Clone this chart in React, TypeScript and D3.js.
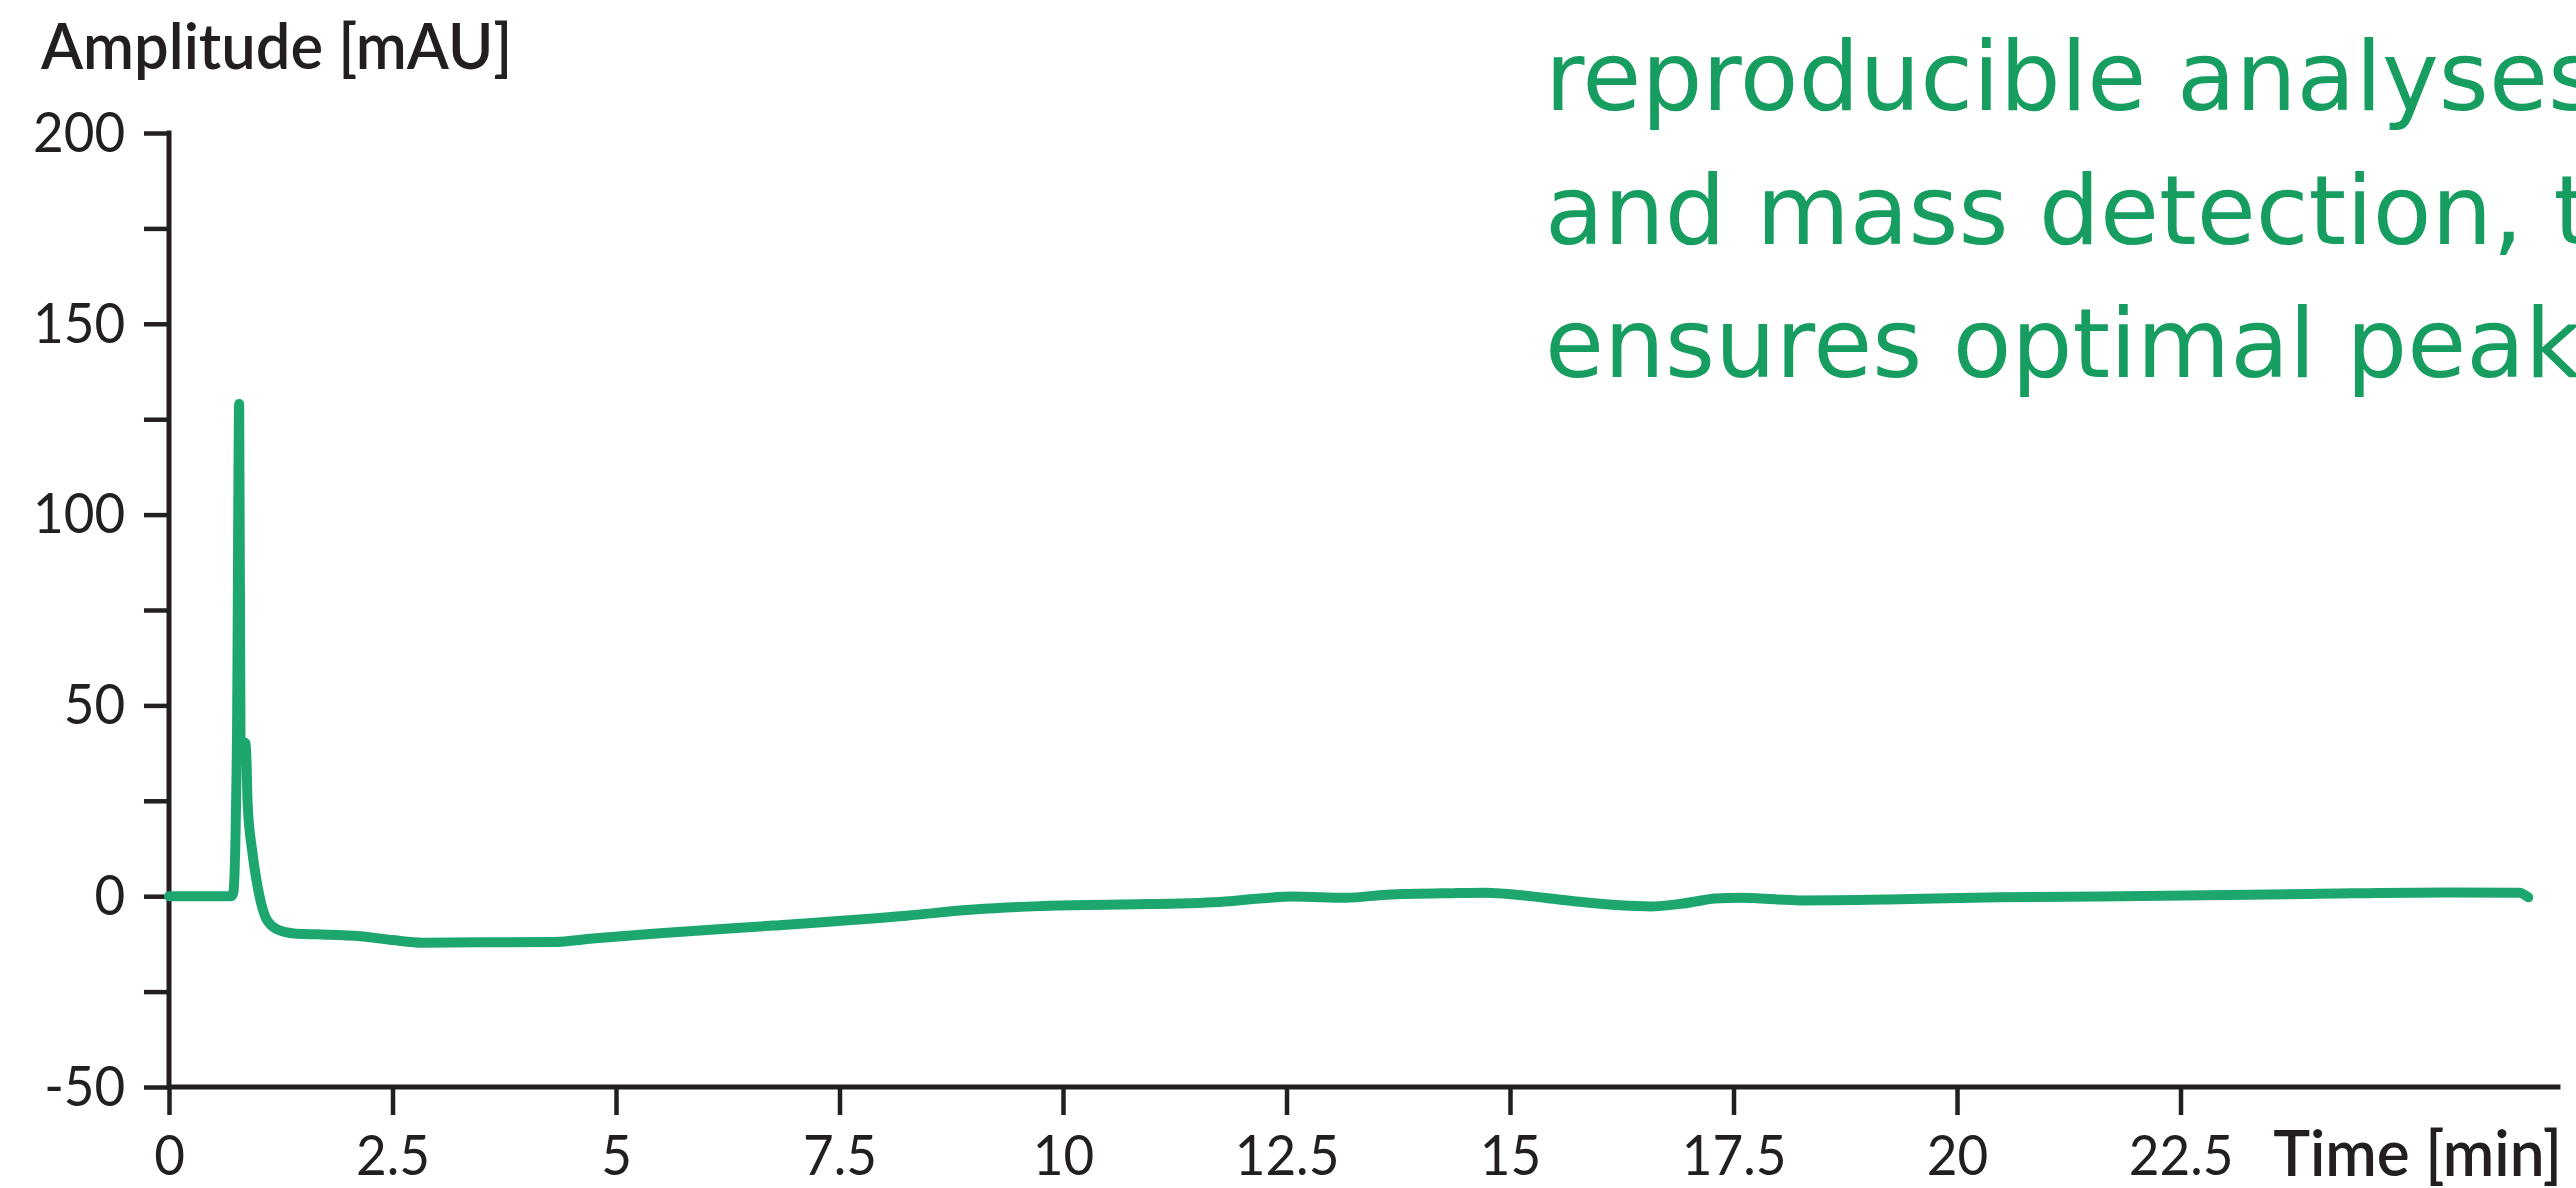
import React, { useEffect, useRef } from 'react';
import * as d3 from 'd3';

// chromatogram trace
const times = [
  0, 0.7, 0.72, 0.76, 0.785, 0.8, 0.86, 0.88, 0.93, 0.98, 1.09, 1.22, 1.4, 1.65,
  2.14, 2.5, 2.84, 3.5, 4.3, 4.74, 5.27, 5.49, 6.76, 8.25, 9.0, 9.74, 10.64,
  11.76, 12.2, 12.57, 13.17, 13.62, 14.36, 14.74, 15.1, 15.67, 16.23, 16.57,
  16.94, 17.3, 17.57, 18.24, 19.36, 20.48, 21.6, 23.94, 25.44, 26.29, 26.39,
];
const amplitudes = [
  0, 0, 1, 41, 129, 41, 40, 24, 12, 4, -6, -8.8, -9.8, -10,
  -10.5, -11.5, -12.2, -12.1, -12, -11.1, -10.1, -9.7, -7.7, -5.1, -3.5, -2.6, -2.2,
  -1.5, -0.6, -0.1, -0.4, 0.4, 0.8, 0.9, 0.3, -1.2, -2.4, -2.7,
  -1.9, -0.6, -0.4, -1.1, -0.8, -0.3, -0.1, 0.6, 1.0, 0.9, -0.3,
];

const yTicks = [-50, -25, 0, 25, 50, 75, 100, 125, 150, 175, 200];
const yLabels = [-50, 0, 50, 100, 150, 200];
const xTicks = [0, 2.5, 5, 7.5, 10, 12.5, 15, 17.5, 20, 22.5];
const xLabels = ['0', '2.5', '5', '7.5', '10', '12.5', '15', '17.5', '20', '22.5'];

const yTitle = 'Amplitude [mAU]';
const xTitle = 'Time [min]';
const noteLines = ['reproducible analyses', 'and mass detection, t', 'ensures optimal peak'];

const W = 2576;
const H = 1188;
const axisColor = '#231f20';
const lineColor = '#1da76f';
const noteColor = '#169d5f';
const labelFont = 'Lato, "Open Sans", sans-serif';

export default function App() {
  const svgRef = useRef<SVGSVGElement>(null);

  useEffect(() => {
    if (!svgRef.current) return;
    document.body.style.margin = '0';

    const svg = d3.select(svgRef.current);
    svg.selectAll('*').remove();
    svg.attr('width', W).attr('height', H);

    const x = d3.scaleLinear().domain([0, 26.7]).range([169, 2556]);
    const y = d3.scaleLinear().domain([-50, 200]).range([1087, 133]);

    // y axis ticks + labels
    const yAxis = d3.axisLeft(y)
      .tickValues(yTicks)
      .tickSize(25)
      .tickPadding(22)
      .tickFormat(d => (yLabels.includes(d as number) ? String(d) : ''));

    const gy = svg.append('g')
      .attr('transform', `translate(${x(0)},0)`)
      .call(yAxis);
    gy.select('.domain').remove();
    gy.selectAll('line').attr('stroke', axisColor).attr('stroke-width', 4.5);
    gy.selectAll('text')
      .attr('fill', axisColor)
      .style('font-family', labelFont)
      .style('font-size', '57px')
      .attr('transform', 'scale(0.93,1)');

    // x axis ticks + labels
    const xAxis = d3.axisBottom(x)
      .tickValues(xTicks)
      .tickSize(28)
      .tickPadding(20)
      .tickFormat((d, i) => xLabels[i]);

    const gx = svg.append('g')
      .attr('transform', `translate(0,${y(-50)})`)
      .call(xAxis);
    gx.select('.domain').remove();
    gx.selectAll('line').attr('stroke', axisColor).attr('stroke-width', 4.5);
    gx.selectAll('text')
      .attr('fill', axisColor)
      .style('font-family', labelFont)
      .style('font-size', '57px')
      .attr('transform', 'scale(0.93,1)');

    // axis lines
    svg.append('line')
      .attr('x1', x(0)).attr('x2', x(0))
      .attr('y1', y(200)).attr('y2', y(-50))
      .attr('stroke', axisColor).attr('stroke-width', 5)
      .attr('stroke-linecap', 'square');
    svg.append('line')
      .attr('x1', x(0)).attr('x2', x(26.75))
      .attr('y1', y(-50)).attr('y2', y(-50))
      .attr('stroke', axisColor).attr('stroke-width', 5);

    // titles
    svg.append('g')
      .attr('transform', 'translate(41,69) scale(0.96,1)')
      .append('text')
      .attr('fill', axisColor)
      .style('font-family', labelFont)
      .style('font-size', '64px')
      .style('font-weight', 600)
      .text(yTitle);

    svg.append('g')
      .attr('transform', 'translate(2562,1176) scale(0.97,1)')
      .append('text')
      .attr('text-anchor', 'end')
      .attr('fill', axisColor)
      .style('font-family', labelFont)
      .style('font-size', '64px')
      .style('font-weight', 600)
      .text(xTitle);

    // trace
    const data = times.map((t, i) => [t, amplitudes[i]] as [number, number]);
    const line = d3.line<[number, number]>()
      .x(d => x(d[0]))
      .y(d => y(d[1]))
      .curve(d3.curveMonotoneX);

    svg.append('path')
      .datum(data)
      .attr('fill', 'none')
      .attr('stroke', lineColor)
      .attr('stroke-width', 10)
      .attr('stroke-linejoin', 'round')
      .attr('stroke-linecap', 'round')
      .attr('d', line);

    // green note text, cut by the right edge as in the source
    svg.append('g')
      .selectAll('text')
      .data(noteLines)
      .enter()
      .append('text')
      .attr('x', 1545)
      .attr('y', (d, i) => 110 + i * 133.5)
      .attr('fill', noteColor)
      .style('font-family', '"DejaVu Sans", Verdana, sans-serif')
      .style('font-size', '96px')
      .text(d => d);
  }, []);

  return <svg ref={svgRef} style={{ display: 'block', background: '#fff' }} />;
}
